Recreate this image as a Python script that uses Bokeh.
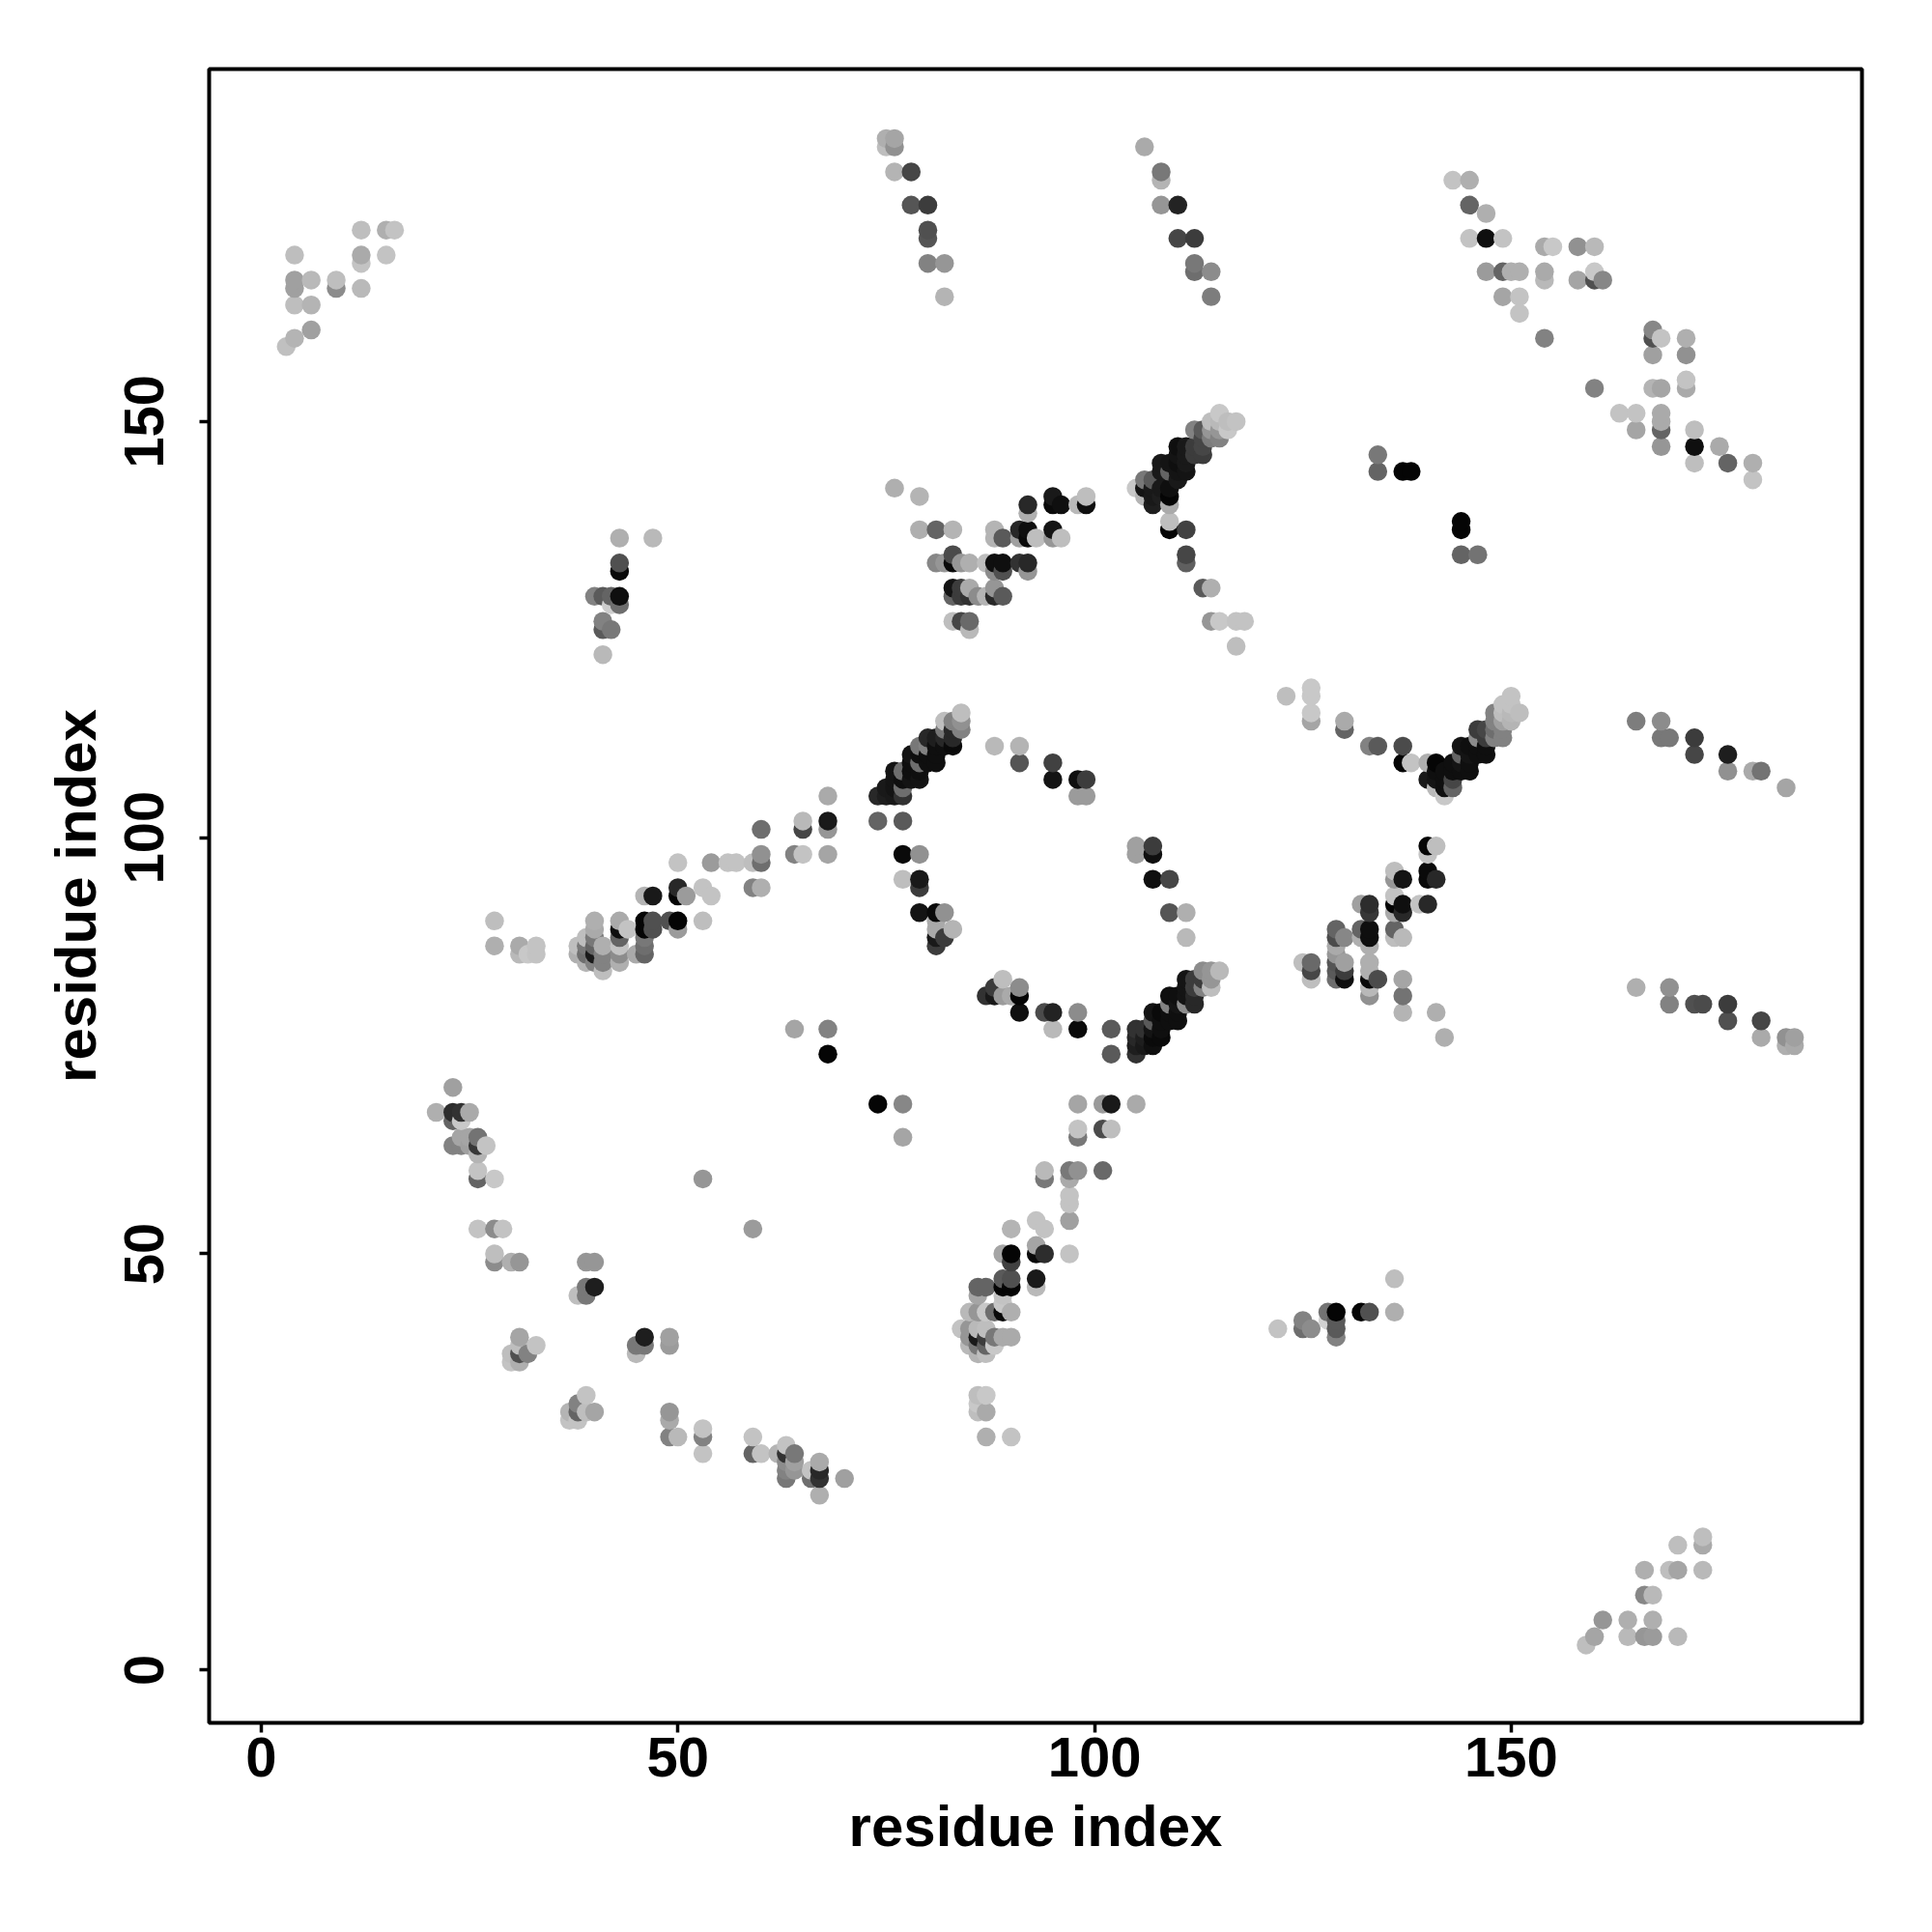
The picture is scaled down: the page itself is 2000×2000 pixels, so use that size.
from bokeh.plotting import figure
from bokeh.embed import file_html
from bokeh.resources import INLINE
from bokeh.models import Range1d, FixedTicker, ColumnDataSource
import numpy as np

# contact map: residue index pairs and their grey shade, cluster by cluster
a_x = [3,4,6,4,6,4,4,6,9,9,12,4,12,12,15,12,15,16]
a_y = [159,160,161,164,164,166,167,167,166,167,166,170,169,170,170,173,173,173]
a_g = [192,180,160,190,180,160,160,185,140,190,185,190,195,170,195,190,175,195]

b_x = [43,47,43,43,40,41,42,43,43,42,41,41,42,41]
b_y = [136,136,133,132,129,129,129,129,128,128,126,125,125,122]
b_g = [175,185,80,10,130,90,100,15,110,205,130,90,120,185]

c_x = [75,76,75,76,76,78,78,80,80,80,80,82,82]
c_y = [184,184,183,183,180,180,176,176,173,172,169,169,165]
c_g = [175,165,190,145,180,70,85,60,80,85,130,150,180]

d_x = [106,108,108,108,110,110,112,112,112,114,114]
d_y = [183,180,179,176,176,172,172,169,168,168,165]
d_g = [170,120,180,150,35,70,60,120,110,140,125]

e_x = [76,79,79,81,83,81,82,83,83,84,85,87,88,89,91,92,88,89,92,83,84,85,88,83,84,85,86,87,88,89,83,84,85,85,88,88,89,91,92,91,92,93,95,95,96,92,92,95,95,96,98,99,99]
e_y = [142,141,137,137,137,133,133,134,133,133,133,133,133,133,133,133,132,132,132,130,130,130,130,129,129,129,129,129,129,129,126,126,126,125,137,136,136,137,137,136,136,136,137,136,136,140,139,141,140,140,140,141,140]
e_g = [175,180,175,100,180,135,150,75,10,150,175,190,15,15,50,40,140,80,150,20,60,170,150,100,60,50,140,180,40,90,190,70,105,185,180,180,90,40,15,160,10,190,20,150,190,40,175,25,10,15,185,190,15]

f_x = [105,106,106,106,107,107,107,107,108,108,108,108,109,109,109,109,109,109,109,110,110,110,110,110,111,111,111,111,111,111,111,112,112,112,113,113,113,113,113,114,114,114,114,114,115,115,115,115,115,116,116,117,117,118,117]
f_y = [142,143,142,141,143,142,141,140,145,144,142,141,145,144,142,141,140,138,137,147,146,145,144,143,147,146,145,144,137,134,133,149,147,146,149,148,147,146,130,150,149,148,130,126,151,150,149,148,126,150,149,150,126,126,123]
f_g = [200,120,20,180,90,25,25,30,25,25,25,30,20,100,15,5,170,190,5,15,20,15,20,25,25,25,25,20,65,70,95,130,60,60,90,70,70,60,90,190,150,125,175,150,200,185,150,130,200,190,200,195,195,195,190]

g_x = [143,145,145,147,145,147,149,154,155,158,160,147,149,150,151,154,154,158,160,160,161,149,151,151,154,167,167,168,171,167,171,160,167,168,171,171,163,165,165,168,168,168,168,172,172,172,175,176,179,179]
g_y = [179,179,176,175,172,172,172,171,171,171,171,168,168,168,168,168,167,167,168,167,167,165,165,163,160,161,160,160,160,158,158,154,154,154,155,154,151,151,149,151,150,149,147,149,147,145,147,145,145,143]
g_g = [195,175,100,175,195,15,195,170,200,145,185,155,100,175,175,170,185,165,200,80,135,165,195,195,130,135,80,195,175,160,145,130,180,165,195,170,195,195,165,170,170,100,150,190,15,190,170,100,175,195]

h_x = [134,134,137,138,144,144,144,146]
h_y = [146,144,144,144,138,137,134,134]
h_g = [120,100,5,5,5,5,100,115]

i_x = [28,28,31,31,32,33,33,38,38,39,39,39,39,40,40,40,40,40,40,41,41,41,41,43,43,43,43,43,43,44,45,46,46,46,46,46,47,47,46,47,49,50,50,50,50,51,50,53,54,53,54,56,57,59,60,60,60,59,60,64,65,65,65,68,68,68,68,64,68,68]
i_y = [90,87,87,86,86,87,86,87,86,88,87,86,85,90,89,88,87,86,85,87,86,85,84,90,89,88,87,86,85,89,86,90,89,88,87,86,90,89,93,93,90,90,89,94,93,93,97,94,93,90,97,97,97,97,97,98,101,94,94,98,98,101,102,98,101,102,105,77,77,74]
i_g = [190,175,170,185,200,195,195,190,175,190,120,110,180,175,170,120,100,25,130,175,130,130,190,170,15,100,195,140,175,195,170,5,5,120,110,100,80,80,180,25,80,5,155,40,5,155,195,195,195,190,155,195,195,190,110,145,110,130,175,130,195,70,185,165,150,25,170,165,130,5]

j_x = [74,75,75,76,76,76,76,77,77,77,77,78,78,78,78,79,79,79,79,79,80,80,80,80,81,81,81,81,82,82,82,82,83,83,83,83,84,84,84]
j_y = [105,106,105,108,107,106,105,108,107,106,105,110,109,108,107,111,110,109,108,107,112,111,110,109,112,111,110,109,114,113,112,111,114,113,112,111,115,114,113]
j_g = [40,25,30,20,20,20,25,110,15,110,50,20,15,15,20,120,15,110,15,20,40,130,15,15,30,15,15,15,190,120,40,15,130,40,40,10,190,145,130]

k_x = [74,77,77,79,77,79,79,79,81,82,81,81,83,82,81,81]
k_y = [102,102,98,98,95,95,94,91,91,91,90,89,89,88,88,87]
k_g = [100,90,10,145,190,25,60,20,10,145,170,170,180,60,25,60]

l_x = [88,91,91,95,95,98,99,98,99,105,105,107,107,107,109,109,111,111]
l_y = [111,111,109,109,107,107,107,105,105,99,98,99,98,95,95,91,91,88]
l_g = [185,180,85,65,20,15,60,155,155,160,160,60,15,15,70,85,175,185]

m_x = [87,88,88,89,89,90,91,91,91,94,95,95,98,98,102,102]
m_y = [81,82,81,83,81,81,82,81,79,79,79,77,79,77,77,74]
m_g = [50,60,25,190,155,170,140,5,15,75,35,185,140,10,90,90]

n_x = [105,105,105,105,106,106,106,107,107,107,107,107,108,108,108,108,109,109,109,109,110,110,110,110,111,111,111,111,112,112,112,112,113,113,113,114,114,114,115]
n_y = [77,76,75,74,77,76,75,79,78,77,76,75,79,78,77,76,81,80,79,78,81,80,79,78,83,82,81,80,83,82,81,80,84,83,82,84,83,82,84]
n_g = [50,40,30,50,50,30,25,20,90,20,10,15,10,15,15,10,15,130,15,15,15,20,15,15,20,20,20,140,60,60,40,40,140,60,130,150,150,190,185]

o_x = [123,126,126,126,126,130,130,133,134,137,137,138,140,140,141,141,141,141,142,142,142,142,143,143,143,143,144,144,144,144,145,145,145,145,146,146,146,146,147,147,147,147,148,148,148,148,149,149,149,149,149,150,150,150,150,151]
o_y = [117,118,117,115,114,114,113,111,111,111,109,109,109,107,109,108,107,106,108,107,106,105,109,108,107,106,111,110,109,108,111,110,109,108,113,112,111,110,113,112,111,110,115,114,113,112,116,115,114,113,112,117,116,115,114,115]
o_g = [190,200,200,200,165,170,100,130,90,75,5,195,175,25,5,15,20,185,15,15,15,200,15,15,70,100,20,100,20,15,15,20,15,15,60,140,15,15,70,60,15,15,130,130,110,130,195,190,160,130,130,195,195,185,180,190]

p_x = [140,141,140,136,136,137,140,140,141,136,136,137,137,136,139,140,132,133,133,132,133,133,132,133,136,136,137]
p_y = [99,99,98,96,95,95,96,95,95,93,92,92,91,91,92,92,92,92,91,89,89,88,88,87,89,88,88]
p_g = [5,190,195,190,150,20,10,10,40,195,5,15,40,170,195,40,160,45,55,100,15,15,175,175,100,190,185]

q_x = [129,129,130,129,129,129,129,129,130,130,130,133,133,133,134,133,133,125,126,126,126,137,137,137,141,142]
q_y = [89,88,88,87,86,85,84,83,85,84,83,85,84,83,83,82,81,85,85,84,83,83,81,79,79,76]
q_g = [100,75,135,170,150,85,90,110,160,60,15,175,175,10,75,185,145,190,105,70,190,165,115,180,175,175]

r_x = [98,101,102,105,98,98,101,102]
r_y = [68,68,68,68,65,64,65,65]
r_g = [165,155,25,170,195,120,75,190]

s_x = [23,21,23,24,25,23,24,23,24,24,25,25,26,26,26,27,26,26,28,26,28,29,28,28,30,31,39,40,39,40,38,39]
s_y = [70,67,67,67,67,66,66,63,64,63,64,63,64,63,62,63,60,59,59,53,53,53,50,49,49,49,49,49,46,46,45,45]
s_g = [160,175,45,50,170,100,200,130,165,130,165,160,115,55,180,195,195,100,200,195,140,195,190,140,175,150,150,150,120,30,190,120]

t_x = [31,33,30,31,32,30,31,31,46,45,46,45,49,49,39,38,38,37,39,40,37,38]
t_y = [40,39,38,38,38,37,37,39,40,39,39,38,40,39,33,32,31,31,31,31,30,30]
t_g = [165,195,190,80,130,195,175,190,30,120,120,185,160,155,195,130,100,180,190,165,195,195]

u_x = [49,49,49,50,53,53,53,59,59,60,62,63,63,63,63,63,64,64,64,66,66,67,67,67,67,70]
u_y = [31,30,28,28,29,28,26,28,26,26,26,27,26,25,24,23,26,25,24,24,23,25,24,23,21,23]
u_g = [150,170,130,185,195,130,195,195,100,195,180,195,50,140,130,120,120,160,150,195,110,170,40,50,175,160]

v_x = [74,77,77,53,59]
v_y = [68,68,64,59,53]
v_g = [5,135,165,150,155]

w_x = [94,94,97,98,101,97,97,97,97,93,94,90,93,93,94,97,89,90,90,93,93]
w_y = [60,59,60,60,60,59,57,56,54,54,53,53,51,50,50,50,50,50,49,47,46]
w_g = [185,120,120,145,105,170,195,195,160,195,195,180,165,10,45,195,165,5,65,25,185]

x_x = [86,87,89,90,89,90,86,89,89,85,86,87,88,90,89,84,85,86,87,85,86,87,88,89,90,85,86,87,88,86,87,86,87,86,86,87,87,90]
x_y = [46,46,47,47,46,46,45,45,44,43,43,43,43,43,43,41,41,41,41,40,40,40,40,40,40,39,39,39,39,38,38,33,33,32,31,31,28,28]
x_g = [100,100,90,80,5,5,165,195,200,185,150,200,110,175,10,195,150,185,190,150,25,60,120,170,170,185,120,100,200,180,190,190,200,200,190,170,175,195]

y_x = [122,125,125,126,128,129,128,129,129,129,132,133,136,136]
y_y = [41,42,41,41,43,43,42,42,41,40,43,43,43,47]
y_g = [195,130,110,140,115,5,210,90,90,130,5,80,175,190]

z_x = [159,160,161,164,164,166,167,167,166,167,166,169,170,170,170,173,173,173]
z_y = [3,4,6,6,4,4,4,6,9,9,12,12,12,4,15,12,15,16]
z_g = [190,165,150,175,185,150,155,175,135,185,175,190,165,185,190,185,170,190]

aa_x = [165,168,168,169,172,172,176,176,179,180,183]
aa_y = [114,114,112,112,112,110,110,108,108,108,106]
aa_g = [125,140,120,120,60,70,30,145,170,115,165]

ab_x = [165,169,169,172,173,176,176,180,180,183,184,183,184]
ab_y = [82,82,80,80,80,80,78,78,76,76,76,75,75]
ab_g = [175,145,130,80,75,60,80,70,170,145,160,175,170]

x_ticks = [0, 50, 100, 150]
y_ticks = [0, 50, 100, 150]
x_title = "residue index"
y_title = "residue index"

clusters = [(a_x,a_y,a_g),(b_x,b_y,b_g),(c_x,c_y,c_g),(d_x,d_y,d_g),(e_x,e_y,e_g),(f_x,f_y,f_g),(g_x,g_y,g_g),
            (h_x,h_y,h_g),(i_x,i_y,i_g),(j_x,j_y,j_g),(k_x,k_y,k_g),(l_x,l_y,l_g),(m_x,m_y,m_g),(n_x,n_y,n_g),
            (o_x,o_y,o_g),(p_x,p_y,p_g),(q_x,q_y,q_g),(r_x,r_y,r_g),(s_x,s_y,s_g),(t_x,t_y,t_g),(u_x,u_y,u_g),
            (v_x,v_y,v_g),(w_x,w_y,w_g),(x_x,x_y,x_g),(y_x,y_y,y_g),(z_x,z_y,z_g),(aa_x,aa_y,aa_g),(ab_x,ab_y,ab_g)]
rows = []
for cx, cy, cg in clusters:
    rows.extend(zip(cx, cy, cg, strict=True))
rows.sort(key=lambda r: (r[0], r[1]))
xs = [r[0] for r in rows]
ys = [r[1] for r in rows]
cols = ["#%02x%02x%02x" % (r[2], r[2], r[2]) for r in rows]
src = ColumnDataSource(dict(x=xs, y=ys, c=cols))

p = figure(width=1990, height=1990, output_backend="svg", toolbar_location=None,
           x_range=Range1d(-6.25, 192.1), y_range=Range1d(-6.35, 192.35),
           min_border_left=216, min_border_right=63, min_border_top=71, min_border_bottom=207)
p.scatter("x", "y", source=src, size=19.5, fill_color="c", line_color=None, marker="circle")

p.grid.visible = False
p.outline_line_color = "black"
p.outline_line_width = 4
p.background_fill_color = "white"
for ax, ticks, title in ((p.xaxis[0], x_ticks, x_title), (p.yaxis[0], y_ticks, y_title)):
    ax.ticker = FixedTicker(ticks=ticks)
    ax.minor_tick_line_color = None
    ax.axis_line_color = None
    ax.major_tick_line_color = "black"
    ax.major_tick_line_width = 3.5
    ax.major_tick_out = 10
    ax.major_tick_in = 0
    ax.major_label_text_font = "Liberation Sans"
    ax.major_label_text_font_style = "bold"
    ax.major_label_text_font_size = "58px"
    ax.major_label_text_color = "black"
    ax.axis_label = title
    ax.axis_label_text_font = "Liberation Sans"
    ax.axis_label_text_font_style = "bold"
    ax.axis_label_text_font_size = "60px"
    ax.axis_label_text_color = "black"
p.yaxis[0].major_label_orientation = "vertical"
p.xaxis[0].major_label_standoff = 5
p.yaxis[0].major_label_standoff = 37
p.xaxis[0].axis_label_standoff = 15
p.yaxis[0].axis_label_standoff = 15

open("out.html", "w").write(file_html(p, INLINE))
